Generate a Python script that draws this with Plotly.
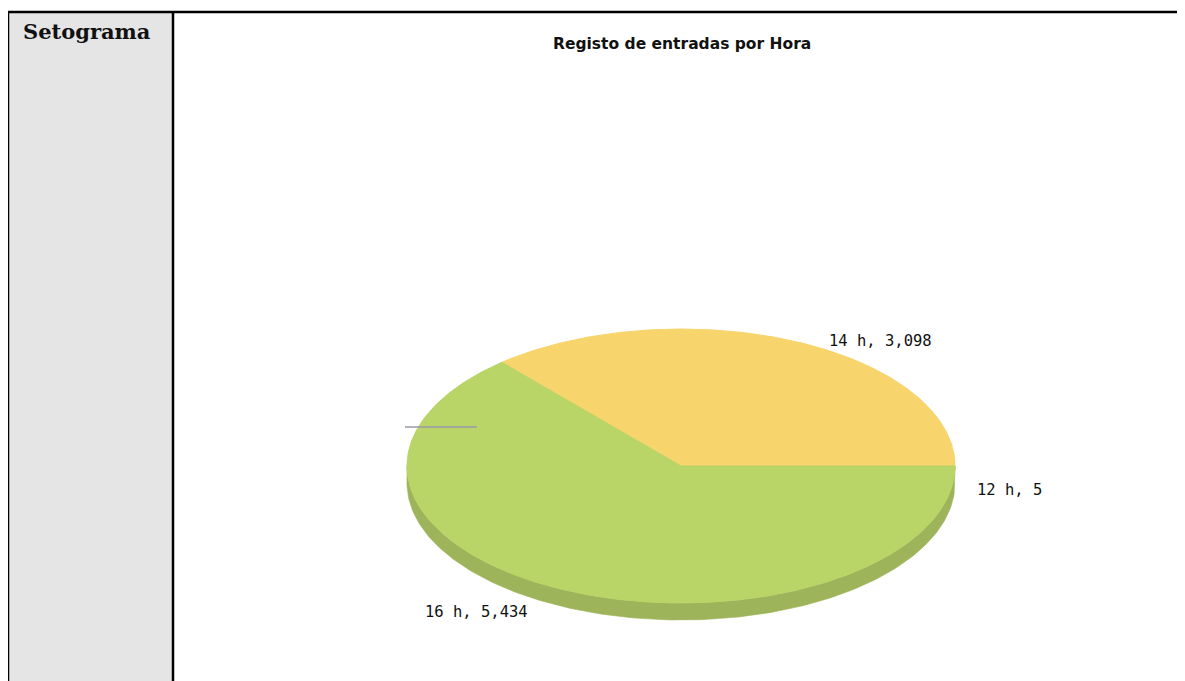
import numpy as np
import plotly.graph_objects as go

# ---- data ----
hours = ["12 h", "14 h", "16 h"]
counts = [5, 3098, 5434]
slice_colors = ["#E8A25A", "#F7D46C", "#B9D467"]
side_colors = ["#C98A4A", "#D8B85A", "#9DB45A"]
title_text = "Registo de entradas por Hora"
cell_label = "Setograma"

W, H = 1185, 681
OFF = 8  # page body margin: figure starts at page pixel (8, 8)
cx, cy, a, b, depth = 681, 466, 274, 137, 17

fig = go.Figure()

# frame / table cells
fig.add_shape(type="rect", x0=8, x1=173, y0=12, y1=H + 5, xref="x", yref="y",
              fillcolor="#E5E5E5", line=dict(width=0), layer="below")
fig.add_shape(type="line", x0=7, x1=W + 5, y0=12, y1=12, line=dict(color="black", width=2.5))
fig.add_shape(type="line", x0=8, x1=8, y0=11, y1=H + 5, line=dict(color="black", width=2.5))
fig.add_shape(type="line", x0=173, x1=173, y0=11, y1=H + 5, line=dict(color="black", width=2.5))

total = sum(counts)
fracs = [c / total for c in counts]
starts = np.concatenate([[0], np.cumsum(fracs)[:-1]]) * 360
ends = np.cumsum(fracs) * 360


def ell(t_deg, dy=0.0):
    t = np.radians(t_deg)
    return cx + a * np.cos(t), cy - b * np.sin(t) + dy


# side (3D depth) for visible lower half
for s, e, col, name in zip(starts, ends, side_colors, hours):
    lo, hi = max(s, 180), min(e, 360)
    if hi <= lo:
        continue
    ts = np.linspace(lo, hi, 200)
    xt, yt = ell(ts)
    xb, yb = ell(ts[::-1], depth)
    fig.add_trace(go.Scatter(x=np.concatenate([xt, xb, xt[:1]]), y=np.concatenate([yt, yb, yt[:1]]),
                             mode="lines", fill="toself", fillcolor=col, line=dict(width=0.6, color=col),
                             hoverinfo="skip", showlegend=False))

# top surfaces
for s, e, col, name, c in zip(starts, ends, slice_colors, hours, counts):
    ts = np.linspace(s, e, max(3, int((e - s) * 2)))
    xs, ys = ell(ts)
    fig.add_trace(go.Scatter(x=np.concatenate([[cx], xs, [cx]]), y=np.concatenate([[cy], ys, [cy]]),
                             mode="lines", fill="toself", fillcolor=col, line=dict(width=1, color=col),
                             name=name, text=f"{name}, {c:,}", hoverinfo="text", showlegend=False))

# slice labels, anchored to slice mid-angles
label_offsets = {"12 h": (20, 24, "left"), "14 h": (33, 0, "left"), "16 h": (-37, 21, "right")}
for s, e, name, c in zip(starts, ends, hours, counts):
    mx, my = ell((s + e) / 2)
    dx, dy, anc = label_offsets[name]
    fig.add_annotation(x=mx + dx, y=my + dy, text=f"{name}, {c:,}", showarrow=False,
                       xanchor=anc, yanchor="middle",
                       font=dict(family="DejaVu Sans Mono", size=15.5, color="#111"))

# leftover leader line
fig.add_shape(type="line", x0=405, x1=477, y0=427, y1=427, line=dict(color="#9A9AA8", width=1.5))

fig.add_annotation(x=cx + 1, y=44, text=f"<b>{title_text}</b>", showarrow=False, xanchor="center",
                   yanchor="middle", font=dict(family="DejaVu Sans", size=15.5, color="#111"))
fig.add_annotation(x=21, y=31, text=f"<b>{cell_label}</b>", showarrow=False, xanchor="left", yanchor="middle",
                   font=dict(family="DejaVu Serif", size=21, color="#111"))

fig.update_layout(width=W - OFF, height=H - OFF, margin=dict(l=0, r=0, t=0, b=0),
                  paper_bgcolor="white", plot_bgcolor="white",
                  xaxis=dict(range=[OFF, W], visible=False, fixedrange=True),
                  yaxis=dict(range=[H, OFF], visible=False, fixedrange=True))

fig.write_html("out.html", config={"displayModeBar": False})
